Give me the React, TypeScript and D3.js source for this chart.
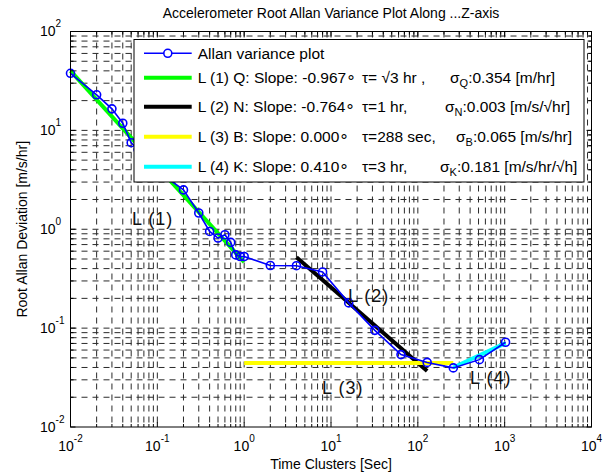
import React from 'react';
import * as d3 from 'd3';

// Allan deviation samples: cluster time (s) and root Allan deviation (m/s/hr)
const tauSec = [
  0.01, 0.02, 0.03, 0.04, 0.05, 0.06, 0.07, 0.08, 0.09, 0.1,
  0.2, 0.3, 0.4, 0.5, 0.6, 0.7, 0.8, 0.9, 1,
  2, 4, 8, 16, 32, 64, 128, 256, 512, 1024,
];
const rootAllanDev = [
  37.8, 22.9, 16.5, 11.8, 7.5, 6.4, 5.5, 4.8, 4.3, 3.9,
  2.5, 1.46, 0.95, 0.815, 0.88, 0.736, 0.55, 0.53, 0.53,
  0.43, 0.428, 0.37, 0.18, 0.095, 0.054, 0.045, 0.0396, 0.048, 0.072,
];

// Fitted noise-term lines: start/end cluster time, start deviation, log-log slope
const fitLabels = ['L (1)', 'L (2)', 'L (3)', 'L (4)'];
const fitTauStart = [0.01, 4, 1, 256];
const fitTauEnd = [1, 128, 256, 1024];
const fitDevStart = [40, 0.52, 0.0445, 0.04];
const fitSlopes = [-0.967, -0.764, 0.0, 0.41];
const fitColors = ['#00ff00', '#000000', '#ffff00', '#00ffff'];

// Legend text pieces for each fit
const legendHead = [
  'L (1) Q: Slope: -0.967\u2218',
  'L (2) N: Slope: -0.764\u2218',
  'L (3) B: Slope: 0.000\u2218',
  'L (4) K: Slope: 0.410\u2218',
];
const legendTau = ['\u03c4= \u221a3 hr ,', '\u03c4=1 hr,', '\u03c4=288 sec,', '\u03c4=3 hr,'];
const legendSigmaSub = ['Q', 'N', 'B', 'K'];
const legendSigmaText = [
  ':0.354 [m/hr]',
  ':0.003 [m/s/\u221ahr]',
  ':0.065 [m/s/hr]',
  ':0.181 [m/s/hr/\u221ah]',
];

// Where the L (n) callouts sit in data coordinates
const calloutTau = [0.051, 15.7, 7.9, 400];
const calloutDev = [1.1, 0.184, 0.0216, 0.0272];

const xDecades = [-2, -1, 0, 1, 2, 3, 4];
const yDecades = [-2, -1, 0, 1, 2];

const W = 610;
const H = 475;
const X0 = 70.5;
const X1 = 591.5;
const Y0 = 31.5;
const Y1 = 427;
const FONT = 'Liberation Sans, Arial, Helvetica, sans-serif';

export default function App() {
  const x = d3.scaleLog().domain([1e-2, 1e4]).range([X0, X1]);
  const y = d3.scaleLog().domain([1e-2, 1e2]).range([Y1, Y0]);

  const xGrid = x.ticks().filter((v) => v > 1e-2 * 1.0001 && v < 1e4 * 0.9999);
  const yGrid = y.ticks().filter((v) => v > 1e-2 * 1.0001 && v < 1e2 * 0.9999);
  const xAll = x.ticks();
  const yAll = y.ticks();
  const isMajor = (v: number) => Math.abs(Math.log10(v) - Math.round(Math.log10(v))) < 1e-9;

  const line = d3
    .line<number>()
    .x((_, i) => x(tauSec[i]))
    .y((d) => y(d));

  const fitPath = (i: number) => {
    const t0 = fitTauStart[i];
    const t1 = fitTauEnd[i];
    const v0 = fitDevStart[i];
    const v1 = v0 * Math.pow(t1 / t0, fitSlopes[i]);
    return d3.line<[number, number]>().x((d) => x(d[0])).y((d) => y(d[1]))([
      [t0, v0],
      [t1, v1],
    ]);
  };

  const gridStyle = { stroke: '#2a2a2a', strokeWidth: 1, strokeDasharray: '6,5', fill: 'none' };

  // legend geometry
  const LX0 = 134;
  const LX1 = 584;
  const LY0 = 39.5;
  const LY1 = 182;
  const rowY = [53.3, 77.7, 106.7, 136.7, 166.7];
  const sigmaX = [450, 445, 456, 440];
  const LFS = 15.5;

  return (
    <svg
      width={W}
      height={H}
      style={{ position: 'absolute', left: 0, top: 0, background: '#fff' }}
      fontFamily={FONT}
    >
      <rect x={0} y={0} width={W} height={H} fill="#fff" />

      {/* grid */}
      <g>
        {xGrid.map((v, i) => (
          <line key={'gx' + i} x1={x(v)} x2={x(v)} y1={Y0} y2={Y1} style={gridStyle} />
        ))}
        {yGrid.map((v, i) => (
          <line key={'gy' + i} x1={X0} x2={X1} y1={y(v)} y2={y(v)} style={gridStyle} />
        ))}
      </g>

      {/* fitted lines */}
      {fitLabels.map((_, i) => (
        <path
          key={'fit' + i}
          d={fitPath(i) || ''}
          stroke={fitColors[i]}
          strokeWidth={4}
          fill="none"
        />
      ))}

      {/* Allan deviation curve */}
      <path d={line(rootAllanDev) || ''} stroke="#0000ff" strokeWidth={1.6} fill="none" />
      {rootAllanDev.map((v, i) => (
        <circle
          key={'pt' + i}
          cx={x(tauSec[i])}
          cy={y(v)}
          r={4}
          fill="none"
          stroke="#0000ff"
          strokeWidth={1.6}
        />
      ))}

      {/* callout labels */}
      {fitLabels.map((s, i) => (
        <text
          key={'co' + i}
          x={x(calloutTau[i])}
          y={y(calloutDev[i])}
          fontSize={18}
          letterSpacing={1}
          fill="#111"
        >
          {s}
        </text>
      ))}

      {/* axes box and ticks */}
      <rect x={X0} y={Y0} width={X1 - X0} height={Y1 - Y0} fill="none" stroke="#000" strokeWidth={1} />
      {xAll.map((v, i) => {
        const len = isMajor(v) ? 5 : 3;
        return (
          <g key={'tx' + i}>
            <line x1={x(v)} x2={x(v)} y1={Y1} y2={Y1 - len} stroke="#000" />
            <line x1={x(v)} x2={x(v)} y1={Y0} y2={Y0 + len} stroke="#000" />
          </g>
        );
      })}
      {yAll.map((v, i) => {
        const len = isMajor(v) ? 5 : 3;
        return (
          <g key={'ty' + i}>
            <line x1={X0} x2={X0 + len} y1={y(v)} y2={y(v)} stroke="#000" />
            <line x1={X1} x2={X1 - len} y1={y(v)} y2={y(v)} stroke="#000" />
          </g>
        );
      })}

      {/* tick labels */}
      {xDecades.map((e) => (
        <text key={'xl' + e} x={x(Math.pow(10, e))} y={451} fontSize={14} textAnchor="middle" fill="#000">
          10
          <tspan fontSize={10} dy={-9}>
            {String(e)}
          </tspan>
        </text>
      ))}
      {yDecades.map((e) => (
        <text key={'yl' + e} x={40} y={y(Math.pow(10, e)) + 4.8} fontSize={14} fill="#000">
          10
          <tspan fontSize={10} dy={-9}>
            {String(e)}
          </tspan>
        </text>
      ))}

      {/* axis titles */}
      <text x={(X0 + X1) / 2} y={18} fontSize={14} textAnchor="middle" fill="#000">
        Accelerometer Root Allan Variance Plot Along ...Z-axis
      </text>
      <text x={(X0 + X1) / 2} y={469} fontSize={14} textAnchor="middle" fill="#000">
        Time Clusters [Sec]
      </text>
      <text
        transform={`translate(26.5,${(Y0 + Y1) / 2}) rotate(-90)`}
        fontSize={14}
        textAnchor="middle"
        fill="#000"
      >
        Root Allan Deviation [m/s/hr]
      </text>

      {/* legend */}
      <rect x={LX0} y={LY0} width={LX1 - LX0} height={LY1 - LY0} fill="#fff" stroke="#000" strokeWidth={1} />
      <line x1={144} x2={191.7} y1={rowY[0]} y2={rowY[0]} stroke="#0000ff" strokeWidth={1.6} />
      <circle cx={167.8} cy={rowY[0]} r={4} fill="#fff" stroke="#0000ff" strokeWidth={1.6} />
      <text x={197.7} y={rowY[0] + 5.3} fontSize={LFS} fill="#000">
        Allan variance plot
      </text>
      {fitLabels.map((_, i) => {
        const cy = rowY[i + 1];
        const by = cy + 5.4;
        return (
          <g key={'lg' + i}>
            <line x1={144} x2={191.7} y1={cy} y2={cy} stroke={fitColors[i]} strokeWidth={4} />
            <text x={197.7} y={by} fontSize={LFS} fill="#000">
              {legendHead[i]}
            </text>
            <text x={362} y={by} fontSize={LFS} fill="#000">
              {legendTau[i]}
            </text>
            <text x={sigmaX[i]} y={by} fontSize={LFS} fill="#000">
              {'\u03c3'}
              <tspan fontSize={11} dy={4}>
                {legendSigmaSub[i]}
              </tspan>
              <tspan dy={-4}>{legendSigmaText[i]}</tspan>
            </text>
          </g>
        );
      })}
    </svg>
  );
}
